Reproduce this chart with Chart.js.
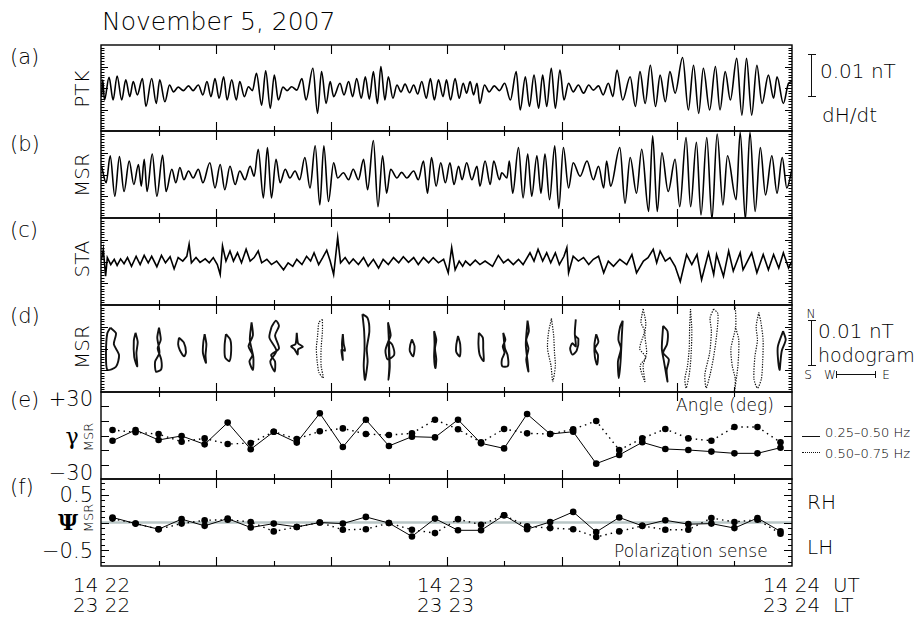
<!DOCTYPE html>
<html>
<head>
<meta charset="utf-8">
<title>November 5, 2007</title>
<script src="https://cdn.jsdelivr.net/npm/chart.js@4.4.1/dist/chart.umd.min.js"></script>
<style>
  body { margin: 0; width: 923px; height: 619px; background: #fff; position: relative; overflow: hidden;
         font-family: "DejaVu Sans", sans-serif; font-weight: 200; color: #000; }
  canvas { position: absolute; }
  .t { position: absolute; white-space: pre; line-height: 1; }
  .c { transform: translate(-50%, -50%); }
  .l { transform: translateY(-50%); }
  .r { transform: translate(-50%, -50%) rotate(-90deg); }
  .g { font-family: "DejaVu Serif", serif; font-weight: 400; color: #000; }
  .bar { position: absolute; background: #111; }
</style>
</head>
<body>
<div class="t l" style="left:102px;top:21px;font-size:25px">November 5, 2007</div>

<div class="t l" style="left:10px;top:57px;font-size:21px">(a)</div>
<div class="t l" style="left:10px;top:144px;font-size:21px">(b)</div>
<div class="t l" style="left:10px;top:230px;font-size:21px">(c)</div>
<div class="t l" style="left:10px;top:316px;font-size:21px">(d)</div>
<div class="t l" style="left:10px;top:400px;font-size:21px">(e)</div>
<div class="t l" style="left:10px;top:487px;font-size:21px">(f)</div>

<div class="t r" style="left:82px;top:89px;font-size:20px">PTK</div>
<div class="t r" style="left:82px;top:175px;font-size:20px">MSR</div>
<div class="t r" style="left:82px;top:259px;font-size:20px">STA</div>
<div class="t r" style="left:82px;top:347px;font-size:20px">MSR</div>

<div class="t l" style="right:830px;top:399px;font-size:21px">+30</div>
<div class="t l" style="right:830px;top:473px;font-size:21px">−30</div>
<div class="t c g" style="left:72px;top:437px;font-size:22px">γ</div>
<div class="t r" style="left:88px;top:437px;font-size:13px">MSR</div>

<div class="t l" style="right:830px;top:495px;font-size:21px">0.5</div>
<div class="t l" style="right:830px;top:551px;font-size:21px">−0.5</div>
<div class="t c g" style="left:68px;top:522px;font-size:22px;font-weight:700">Ψ</div>
<div class="t r" style="left:88px;top:518px;font-size:13px">MSR</div>

<!-- scale bar panel a -->
<div class="bar" style="left:811px;top:54px;width:1.3px;height:43px"></div>
<div class="bar" style="left:808px;top:54px;width:8px;height:1.2px"></div>
<div class="bar" style="left:808px;top:96px;width:8px;height:1.2px"></div>
<div class="t l" style="left:820px;top:71px;font-size:20px">0.01 nT</div>
<div class="t l" style="left:822px;top:115px;font-size:20px">dH/dt</div>

<!-- hodogram scale -->
<div class="t c" style="left:811px;top:314px;font-size:12px">N</div>
<div class="bar" style="left:811px;top:320px;width:1.3px;height:46px"></div>
<div class="bar" style="left:808px;top:320px;width:8px;height:1.2px"></div>
<div class="bar" style="left:808px;top:365px;width:8px;height:1.2px"></div>
<div class="t l" style="left:818px;top:331px;font-size:20px">0.01 nT</div>
<div class="t l" style="left:818px;top:355px;font-size:19px">hodogram</div>
<div class="t c" style="left:808px;top:375px;font-size:12px">S</div>
<div class="t c" style="left:830px;top:375px;font-size:12px">W</div>
<div class="bar" style="left:836px;top:374px;width:40px;height:1.2px"></div>
<div class="bar" style="left:836px;top:371px;width:1.2px;height:7px"></div>
<div class="bar" style="left:875px;top:371px;width:1.2px;height:7px"></div>
<div class="t c" style="left:886px;top:375px;font-size:12px">E</div>

<div class="t l" style="left:676px;top:405px;font-size:17px">Angle (deg)</div>
<div class="bar" style="left:802px;top:436px;width:18px;height:1.2px"></div>
<div class="t l" style="left:825px;top:432px;font-size:13px">0.25–0.50 Hz</div>
<div style="position:absolute;left:802px;top:452px;width:18px;border-top:1.6px dotted #111"></div>
<div class="t l" style="left:825px;top:453px;font-size:13px">0.50–0.75 Hz</div>

<div class="t l" style="left:614px;top:551px;font-size:17px">Polarization sense</div>
<div class="t l" style="left:807px;top:502px;font-size:20px">RH</div>
<div class="t l" style="left:807px;top:547px;font-size:20px">LH</div>

<div class="t" style="left:73px;top:575px;font-size:20px;line-height:20px">14 22
23 22</div>
<div class="t" style="left:417px;top:575px;font-size:20px;line-height:20px">14 23
23 23</div>
<div class="t" style="left:763px;top:575px;font-size:20px;line-height:20px">14 24  UT
23 24  LT</div>

<script>
// seconds after 14:22 UT; values in units of 0.001 nT (bar = 0.01 nT)
const ptk = [[0.1,-2.0],[0.3,1.9],[0.6,-2.8],[1.4,2.5],[2.1,-2.8],[2.8,2.8],[3.6,-2.8],[4.3,1.9],[5.0,-2.0],[5.6,1.5],[6.3,-1.6],[7.2,2.2],[7.8,-4.3],[8.8,2.2],[9.6,-3.6],[10.2,1.9],[11.1,-3.2],[11.9,0.7],[12.6,-0.9],[13.4,0.2],[14.3,-0.6],[15.2,0.5],[16.0,-0.6],[16.9,0.7],[17.7,-1.6],[18.4,1.5],[19.1,-2.0],[19.8,2.2],[20.5,-2.4],[21.3,2.6],[21.9,-2.8],[22.7,1.9],[23.5,-2.8],[24.1,1.5],[24.9,-2.0],[25.6,0.3],[26.3,-0.6],[27.0,3.4],[27.9,-4.0],[28.6,4.0],[29.4,-4.7],[30.1,3.0],[30.8,-2.8],[31.6,0.2],[32.3,-0.6],[33.1,0.3],[34.0,-0.5],[34.9,2.2],[35.6,-2.8],[36.8,4.6],[37.6,-5.9],[38.3,3.8],[39.1,-3.6],[39.8,1.5],[40.4,-2.0],[41.5,1.1],[42.2,-1.6],[43.0,1.5],[43.7,-2.0],[44.4,2.2],[45.2,-2.4],[45.9,2.6],[46.6,-2.6],[47.3,3.8],[48.0,-3.6],[48.6,5.0],[49.3,-2.8],[49.9,2.6],[50.7,-2.4],[51.4,0.7],[52.1,-0.9],[52.8,0.9],[53.6,-1.1],[54.3,0.7],[55.0,-1.4],[55.7,1.5],[56.5,-2.4],[57.2,2.2],[57.9,-2.8],[58.6,1.9],[59.4,-2.0],[60.0,1.9],[60.7,-2.8],[61.5,2.2],[62.2,-2.4],[62.9,1.1],[63.5,-1.2],[64.1,1.5],[64.7,-1.6],[65.3,1.1],[65.8,-3.6],[66.6,0.7],[67.4,-0.9],[68.3,0.5],[69.2,-0.6],[70.1,1.1],[71.1,-2.8],[72.1,3.8],[72.8,-5.1],[73.7,2.6],[74.4,-4.3],[75.2,3.0],[76.0,-4.7],[76.7,3.0],[77.4,-4.3],[78.2,4.6],[78.9,-4.7],[79.7,4.2],[80.4,-2.8],[81.2,1.1],[82.0,-0.9],[82.9,0.7],[83.8,-1.2],[84.7,0.7],[85.5,-0.5],[86.4,0.5],[87.2,-1.6],[88.1,1.1],[88.9,-2.0],[89.6,4.2],[90.6,-2.8],[91.9,2.6],[92.8,-4.3],[93.6,3.8],[94.5,-3.6],[95.4,5.3],[96.3,-4.3],[97.1,3.0],[98.0,-3.2],[98.8,3.8],[99.7,-1.2],[101.0,7.1],[102.0,-5.1],[102.9,5.3],[103.8,-5.9],[104.6,4.6],[105.7,-5.1],[106.7,5.0],[107.5,-5.1],[108.4,3.8],[109.3,-2.8],[110.4,6.9],[111.3,-6.3],[112.1,6.9],[113.0,-6.3],[113.9,5.3],[114.8,-3.6],[115.9,3.0],[116.8,-2.4],[117.4,2.6],[118.5,-3.6],[119.4,1.1],[120,1.5]];

const msr = [[0.1,1.9],[0.9,-1.9],[1.6,4.3],[2.4,-5.0],[3.2,4.1],[4.0,-3.9],[4.9,3.1],[5.7,-2.3],[6.5,2.3],[7.0,-2.7],[7.5,3.5],[8.0,-3.9],[8.9,4.7],[9.7,-5.0],[10.7,4.4],[11.3,-3.9],[12.3,1.2],[13.0,-1.9],[13.7,1.6],[14.4,-1.2],[15.2,0.8],[16.0,-0.8],[16.9,1.2],[17.7,-1.9],[18.9,2.7],[19.8,-3.1],[20.7,2.3],[21.5,-3.5],[22.4,1.9],[23.3,-2.3],[24.1,0.8],[25.0,-1.2],[25.9,1.9],[26.6,-0.4],[27.3,5.8],[28.2,-5.4],[28.9,6.2],[29.6,-5.4],[30.4,3.5],[31.1,-1.9],[32.0,1.2],[32.8,-0.8],[33.7,0.8],[34.5,-1.2],[35.4,3.9],[36.3,-3.1],[37.2,6.6],[38.0,-7.0],[38.7,6.6],[39.5,-6.2],[40.4,2.7],[41.1,-0.8],[42.1,0.4],[43.0,-1.2],[43.8,1.2],[44.7,-1.2],[45.6,3.5],[46.3,-3.5],[47.3,7.8],[48.1,-7.4],[48.9,4.3],[49.6,-4.3],[50.3,1.2],[51.4,-0.8],[52.2,0.5],[53.1,-0.8],[54.3,0.8],[55.1,-1.2],[56.0,3.1],[56.7,-4.3],[57.4,3.9],[58.2,-2.7],[59.0,2.7],[59.8,-1.9],[60.6,2.7],[61.3,-2.3],[62.1,1.9],[62.7,-1.2],[63.5,2.7],[64.4,-1.2],[65.3,1.9],[65.8,-2.7],[66.7,3.1],[67.6,-2.3],[68.2,3.1],[69.2,-1.2],[69.6,0.4],[70.5,-0.8],[70.9,3.1],[71.5,-4.3],[72.5,6.2],[73.3,-5.4],[74.1,4.7],[74.8,-5.0],[75.7,4.3],[76.4,-4.3],[77.1,4.7],[77.9,-5.8],[78.8,6.6],[79.5,-7.8],[80.3,6.2],[81.2,-3.1],[82.0,2.7],[83.2,-0.4],[84.4,3.1],[85.5,-1.2],[86.4,1.9],[87.3,-3.1],[87.8,3.1],[88.5,-2.7],[90.1,6.2],[91.0,-6.6],[91.9,3.9],[93.0,-4.3],[93.9,5.8],[95.1,-8.5],[95.8,8.9],[96.6,-8.5],[97.4,5.0],[98.5,-3.9],[99.7,3.5],[100.5,-7.4],[101.6,8.5],[102.4,-7.4],[103.4,7.4],[104.2,-9.3],[105.2,8.5],[106.1,-10.1],[107.0,9.3],[108.0,-7.0],[108.8,4.3],[110.3,-5.8],[111.0,9.7],[111.9,-10.1],[112.7,9.7],[113.6,-8.5],[114.5,6.2],[115.4,-4.7],[116.5,4.3],[117.4,-4.3],[118.3,3.9],[119.1,-3.1],[120,1.2]];

const sta = [[0.1,0.5],[0.4,2.8],[0.8,-3.4],[1.1,0.9],[1.7,-0.7],[2.3,0.5],[2.8,-0.9],[3.4,0.6],[4.0,-0.5],[4.6,0.9],[5.3,-1.1],[6.1,1.2],[6.8,-0.7],[7.5,1.4],[8.2,-0.3],[8.8,1.2],[9.7,-1.2],[10.5,1.4],[11.2,-0.3],[12.0,1.1],[12.7,-1.7],[13.4,0.9],[14.2,0.1],[14.9,1.2],[15.3,4.0],[15.7,-0.3],[16.5,0.9],[17.2,-0.2],[18.1,0.6],[18.8,-0.3],[19.5,0.9],[20.2,-0.7],[20.7,-3.0],[21.1,3.6],[21.7,0.1],[22.4,2.4],[23.0,0.1],[23.7,2.0],[24.4,-0.3],[25.2,2.8],[25.9,0.1],[26.6,0.9],[27.3,2.4],[27.9,-0.3],[28.8,0.5],[29.6,-0.7],[30.5,0.1],[31.7,-1.9],[32.5,-0.3],[33.3,-1.1],[34.0,0.5],[34.9,-0.7],[35.7,1.2],[36.4,0.1],[37.0,2.0],[37.8,-0.7],[38.5,0.9],[39.2,2.6],[39.8,0.1],[40.4,-3.0],[41.1,5.5],[41.6,-0.3],[42.4,0.9],[43.1,-0.5],[43.8,0.6],[44.7,-0.7],[45.6,0.9],[46.4,-1.1],[47.3,0.5],[48.2,-1.5],[49.0,0.5],[49.9,-0.7],[50.8,0.9],[51.7,-0.3],[52.5,1.1],[53.4,-0.2],[54.3,0.9],[55.1,-0.7],[56.0,0.9],[56.9,-0.3],[57.7,0.9],[58.6,-0.3],[59.5,0.5],[60.3,-2.6],[60.9,3.2],[61.5,-1.9],[62.2,0.1],[62.8,-1.1],[63.3,0.1],[64.1,-0.9],[65.0,0.3],[65.8,-0.7],[66.7,0.1],[68.0,-1.1],[69.0,1.4],[69.9,-0.3],[70.7,0.5],[71.6,-0.7],[72.5,0.5],[73.3,-0.7],[74.5,2.0],[75.2,0.1],[75.9,2.8],[76.7,0.1],[77.4,2.0],[78.1,-0.3],[78.9,2.0],[79.6,-0.7],[80.4,1.2],[80.9,3.2],[81.2,-2.6],[82.0,1.2],[82.9,0.1],[83.8,0.9],[84.7,-0.7],[85.5,0.5],[86.4,1.2],[87.3,-2.6],[88.1,0.1],[89.0,-1.1],[90.1,0.5],[91.3,-0.7],[92.2,1.6],[93.0,-2.6],[94.2,0.1],[95.0,0.9],[95.9,2.8],[96.5,-0.3],[97.1,2.4],[98.0,0.1],[98.8,0.9],[99.7,-1.1],[100.6,-4.6],[101.7,1.6],[102.6,-0.7],[103.5,1.6],[104.3,-4.2],[105.5,2.0],[106.4,-3.0],[106.9,1.6],[108.1,-3.4],[109.0,2.4],[109.8,-2.2],[111.0,2.0],[111.5,-1.9],[113.0,2.0],[113.9,-2.6],[115.0,1.6],[115.9,-1.9],[116.8,1.6],[117.7,-1.5],[118.5,2.0],[119.4,-1.5],[120,0.1]];

// analysis windows (s) used for hodograms, angle and polarization
const winT = [2,6,10,14,18,22,26,30,34,38,42,46,50,54,58,62,66,70,74,78,82,86,90,94,98,102,106,110,114,118];

// hodograms: [D (east +), H (north +)] in 0.001 nT, one loop per window
const hodo = [
  [[-0.5,4.8],[0.8,3.5],[0.3,1],[1.5,-1.5],[0.8,-4.2],[-1.2,-4.9],[-1.5,-1],[-1.2,3.5],[-0.5,4.8]],
  [[0,3.6],[0.5,1.5],[0.2,-1],[0.4,-4.1],[-0.3,-2],[-0.4,1.8],[0,3.6]],
  [[0.1,4.8],[0.5,2],[-0.2,0],[0.6,-2.5],[0.6,-4.8],[-0.6,-5.3],[-0.8,-3],[0.2,-1],[-0.3,2.5],[0.1,4.8]],
  [[-0.6,2.5],[0.5,1.4],[1.0,-0.8],[0.6,-1.8],[-0.4,-0.4],[-0.8,1],[-0.6,2.5]],
  [[0,3.3],[0.4,1],[0.2,-1.5],[0.3,-3.3],[-0.4,-1],[-0.3,1.5],[0,3.3]],
  [[-0.4,3.3],[0.6,2],[0.8,-0.5],[0.4,-2.9],[-0.6,-2],[-0.7,0.8],[-0.4,3.3]],
  [[0.2,6],[0.5,3],[-0.5,0.5],[0.4,-1.5],[-0.3,-3],[0.5,-4.9],[0.6,-2],[-0.2,2],[0.2,6]],
  [[-0.5,5],[0.5,6.4],[1.2,5.2],[0.3,3],[1.2,0],[-0.6,-1.5],[0.3,-3],[0.2,-5.3],[-0.8,-3],[0.6,-0.5],[-1,2.5],[-0.5,5]],
  [[0,3.6],[0.3,1.2],[1.4,0.4],[0.3,-0.2],[0.2,-1.4],[-0.5,-0.2],[-1.3,0.5],[-0.3,1],[0,3.6]],
  [[0.6,6.7],[-0.2,6],[-0.5,3],[-0.8,0],[-0.6,-3],[-0.2,-5.5],[0.8,-6.8],[0.3,-4],[0.3,0],[0.6,4],[0.6,6.7]],
  [[0,3.3],[0.2,1],[0.5,-0.5],[-0.3,-0.3],[0,-2.6],[-0.2,1],[0,3.3]],
  [[-0.8,7.9],[0.4,7],[0.8,4],[0.2,0],[0.4,-3],[-0.2,-7.2],[-0.5,-4],[-0.3,0],[-0.4,4],[-0.8,7.9]],
  [[-0.2,6],[0.4,3],[-0.2,1.5],[-0.8,-0.5],[-0.3,-2.5],[1.2,-1.5],[0.8,0.8],[0,1.5],[0.1,-4],[-0.1,-7.2],[0.2,-4],[-0.2,6]],
  [[0,2.1],[0.6,0.5],[0.3,-1.8],[-0.5,-0.6],[-0.4,0.8],[0,2.1]],
  [[-0.2,4],[0.3,2],[0,0],[0.3,-2.5],[0.1,-4.5],[-0.2,-2],[-0.1,1],[-0.2,4]],
  [[0,2.9],[0.5,1],[0.4,-1.8],[-0.4,-0.8],[-0.4,0.8],[0,2.9]],
  [[-0.5,3.6],[0.4,2.5],[0.5,0],[0.6,-2.9],[-0.3,-1.5],[-0.6,1],[-0.5,3.6]],
  [[-0.2,3.6],[0.3,2],[-0.3,0.5],[0.1,-1],[-0.5,-2.5],[-0.4,-4.1],[0.9,-4.0],[0.8,-1.5],[0.2,0],[-0.2,3.6]],
  [[0.1,6.4],[0.4,4],[-0.2,2],[0.3,0],[-0.2,-2.5],[0.3,-5.3],[0.1,-3],[-0.3,1],[0.1,6.4]],
  [[0.3,6.9],[0.8,3],[1.0,-1],[1.2,-4],[0.6,-7.6],[0.2,-4],[-0.6,0],[-0.4,3.5],[0.3,6.9]],
  [[0.6,6.7],[0.4,3],[1.2,2.2],[0.8,-0.5],[-0.2,-1.4],[-0.7,0],[-0.2,1.2],[0.6,0.5],[0.4,3]],
  [[0,3.3],[0.5,1.5],[-0.3,0],[0.4,-1.5],[0.2,-3.7],[-0.3,-2],[-0.4,1],[0,3.3]],
  [[0.8,6.4],[0.2,5],[-0.2,2],[0.4,0],[-0.3,-3],[-0.1,-6.8],[0.3,-3],[0.6,3],[0.8,6.4]],
  [[0.2,9.1],[-0.3,6],[0.5,4],[-0.6,0],[0.8,-2],[-0.5,-4],[0.6,-7.6],[0.2,-4],[1.0,-1],[0.6,3],[0.8,6],[0.2,9.1]],
  [[-0.5,5.2],[0.5,4],[0.4,1],[-0.5,-1],[0.8,-2.5],[0.3,-5],[0.5,-7.6],[-0.3,-3],[-0.8,0],[-0.5,5.2]],
  [[0.5,9.1],[0.3,5],[0.2,0],[-0.2,-4],[-0.8,-7],[-0.5,-9.1],[0.2,-6],[0.6,-2],[0.8,4],[0.5,9.1]],
  [[0.5,9.1],[1.5,8],[1.2,3],[0.5,-2],[-0.3,-6],[-1.2,-9.1],[-1.5,-6],[-0.4,-1],[0,4],[-0.3,7],[0.5,9.1]],
  [[0.2,10],[0.3,5],[-0.8,0],[-0.5,-4],[0.2,-7],[0,-10],[0.8,-4],[1.0,2],[0.2,5]],
  [[0.3,8.3],[0.8,6],[1.3,2],[1.2,-3],[0.9,-7],[0,-9.1],[-0.8,-7],[-0.6,-2],[0,2],[-0.3,5],[0.3,8.3]],
  [[0.6,4],[1.2,2],[0.3,-0.5],[0,-3],[-0.2,-4.9],[-0.6,-2],[-0.6,0.5],[0.6,4]]
];

// ellipse orientation angle gamma (deg)
const gammaLow  = [-3.6,3.8,-3.1,-0.3,-6.1,8.9,-9.5,2.6,-4.9,15.3,-7.9,10.9,-7.2,-0.8,-1.3,10.9,-5.4,-8.9,14.8,1.0,2.6,-19.4,-13.4,-4.7,-9.3,-10.0,-11.1,-12.3,-12.3,-8.4];
const gammaHigh = [3.8,2.2,1.0,-4.3,-2.0,-5.9,-5.2,2.6,-2.4,2.9,4.9,1.0,0.3,1.5,10.9,4.3,-4.7,4.5,1.5,1.0,4.3,10.0,-10.0,-2.0,4.5,-2.0,-3.6,5.9,5.9,-4.7];

// polarization sense psi
const psiLow  = [0.09,-0.02,-0.12,0.06,-0.06,0.07,-0.09,-0.02,-0.08,0.0,-0.02,0.10,-0.01,-0.25,0.07,-0.14,-0.14,0.13,-0.12,0.01,0.19,-0.17,0.09,-0.06,0.04,-0.03,-0.02,-0.10,0.08,-0.16];
const psiHigh = [0.07,-0.02,-0.12,-0.02,0.04,0.05,0.01,-0.16,-0.08,0.0,-0.13,-0.12,-0.01,-0.13,-0.19,0.06,-0.04,0.13,-0.07,-0.10,-0.12,-0.26,-0.16,-0.06,-0.13,-0.13,0.08,0.01,0.05,-0.20];

const tops = [45, 131, 218, 305, 392, 479, 566];
const PL = 101, PR = 792, PAD = 4;

const framePlugin = {
  id: 'frame',
  afterDatasetsDraw(chart, args, opts) {
    const { ctx, chartArea: a, scales: { x, y } } = chart;
    ctx.save();
    ctx.strokeStyle = '#000';
    ctx.lineWidth = 1.4;
    ctx.strokeRect(a.left, a.top, a.right - a.left, a.bottom - a.top);
    ctx.lineWidth = 1.1;
    ctx.beginPath();
    for (let t = 10; t < 120; t += 10) {
      const px = Math.round(x.getPixelForValue(t)) + 0.5;
      const len = t % 20 === 0 ? 9 : 5;
      ctx.moveTo(px, a.top); ctx.lineTo(px, a.top + len);
      ctx.moveTo(px, a.bottom); ctx.lineTo(px, a.bottom - len);
    }
    (opts.yTicks || []).forEach(([v, len]) => {
      const py = Math.round(y.getPixelForValue(v)) + 0.5;
      ctx.moveTo(a.left, py); ctx.lineTo(a.left + len, py);
      ctx.moveTo(a.right, py); ctx.lineTo(a.right - len, py);
    });
    ctx.stroke();
    ctx.restore();
  }
};

function panel(i, type, datasets, ymin, ymax, yTicks) {
  const c = document.createElement('canvas');
  const w = PR - PL + 2 * PAD, h = tops[i + 1] - tops[i] + 2 * PAD;
  c.width = w; c.height = h;
  c.style.left = (PL - PAD) + 'px'; c.style.top = (tops[i] - PAD) + 'px';
  c.style.width = w + 'px'; c.style.height = h + 'px';
  document.body.appendChild(c);
  return new Chart(c, {
    type,
    data: { datasets },
    options: {
      responsive: false, animation: false, events: [],
      devicePixelRatio: 1,
      layout: { padding: PAD },
      plugins: { legend: { display: false }, tooltip: { enabled: false }, frame: { yTicks } },
      scales: {
        x: { type: 'linear', min: 0, max: 120, display: false },
        y: { type: 'linear', min: ymin, max: ymax, display: false }
      }
    },
    plugins: [framePlugin]
  });
}

const waveTicks = [];
for (let i = -15; i <= 15; i++) waveTicks.push([i * 0.625, i % 8 === 0 ? 7 : 3.5]);

function wave(arr, smooth) {
  return {
    data: arr.map(p => ({ x: p[0], y: p[1] })),
    borderColor: '#000', borderWidth: 1.6, pointRadius: 0,
    cubicInterpolationMode: smooth ? 'monotone' : 'default', tension: 0
  };
}

panel(0, 'line', [wave(ptk, true)], -10, 10, waveTicks);
panel(1, 'line', [wave(msr, true)], -10, 10, waveTicks);
panel(2, 'line', [wave(sta, false)], -10, 10, waveTicks);

// hodograms: east deflection drawn with the same nT-per-pixel as north
const PH = tops[4] - tops[3], PW = PR - PL;
const dScale = (PH / 20) / (PW / 120);
const dotted = [9, 19, 23, 25, 26, 27, 28];
panel(3, 'scatter', hodo.map((loop, k) => ({
  data: loop.map(p => ({ x: winT[k] + p[0] * dScale, y: p[1] })),
  showLine: true, tension: 0.25, pointRadius: 0,
  borderColor: '#111', borderWidth: dotted.includes(k) ? 1.2 : 1.9,
  borderDash: dotted.includes(k) ? [1.3, 1.3] : []
})), -10, 10, waveTicks);

function pts(vals) { return vals.map((v, k) => ({ x: winT[k], y: v })); }
function series(vals, dash) {
  return {
    data: pts(vals), borderColor: '#000', borderWidth: dash ? 1.4 : 1,
    borderDash: dash ? [1.5, 4] : [], pointRadius: 3.3,
    pointBackgroundColor: '#000', pointBorderWidth: 0, tension: 0
  };
}

panel(4, 'line', [series(gammaLow, false), series(gammaHigh, true)], -30, 30,
  [[-20, 8], [-10, 8], [0, 8], [10, 8], [20, 8]]);

const psiTicks = [];
for (let i = -7; i <= 7; i++) psiTicks.push([i / 10, i % 5 === 0 ? 8 : 4]);
panel(5, 'line', [
  series(psiLow, false), series(psiHigh, true),
  { data: [{ x: 0, y: 0 }, { x: 120, y: 0 }], borderColor: '#b9c6c6', borderWidth: 2.5, pointRadius: 0, order: 5 }
], -0.78, 0.78, psiTicks);
</script>
</body>
</html>
